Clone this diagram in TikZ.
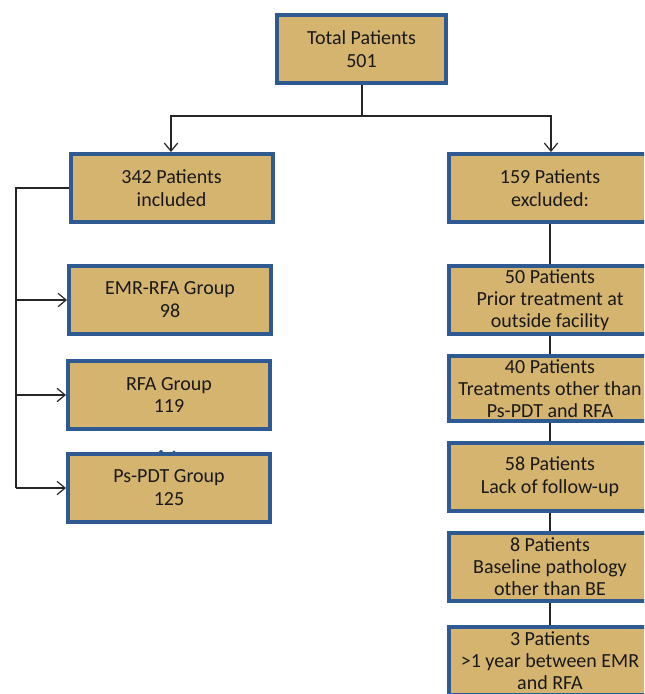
\documentclass[tikz,border=0pt]{standalone}
\usepackage{fontspec}
\setmainfont{Carlito}
\usetikzlibrary{arrows.meta}
\definecolor{boxfill}{RGB}{212,180,110}
\definecolor{boxline}{RGB}{47,90,145}
\tikzset{
  box/.style={draw=boxline, line width=3pt, fill=boxfill, rectangle, inner sep=0pt,
    minimum width=151.5pt, minimum height=51pt, align=center,
    font=\fontsize{15}{17.2}\selectfont, text=black!90},
  box3/.style={box, font=\fontsize{15}{16.5}\selectfont},
  conn/.style={draw=black!85, line width=0.9pt},
  arr/.style={conn, -{Straight Barb[length=6pt,width=10pt,line width=0.9pt]}}
}
\begin{document}
\begin{tikzpicture}[x=0.75pt,y=-0.75pt]
\useasboundingbox (0,0) rectangle (644,694);
\begin{scope}
\clip (0,0) rectangle (644,694);
\node[box, minimum width=126.75pt] (total) at (361.5,49) {Total Patients\\501};
\node[box] (incl) at (171.5,188) {342 Patients\\included};
\node[box] (emr) at (170,300) {EMR-RFA Group\\98};
\node[box] (rfa) at (169,395) {RFA Group\\119};
\node[box] (pdt) at (169,488) {Ps-PDT Group\\125};
\node[box] (excl) at (550,188) {159 Patients\\excluded:};
\node[box3] (ex50) at (550,300) {50 Patients\\Prior treatment at\\outside facility};
\node[box3, minimum height=48.75pt] (ex40) at (550,388.5) {40 Patients\\\makebox[0pt]{Treatments other than}\\Ps-PDT and RFA};
\node[box] (ex58) at (550,477) {58 Patients\\Lack of follow-up};
\node[box3] (ex8) at (550,567) {8 Patients\\Baseline pathology\\other than BE};
\node[box3] (ex3) at (550,660.5) {3 Patients\\\makebox[0pt]{>1 year between EMR}\\and RFA};

\coordinate (split) at (362,116);
\coordinate (lbar) at (16,188);
\draw[conn] (total.south -| split) -- (split);
\draw[arr] (split) -| (incl.north -| 171,0);
\draw[arr] (split) -| (excl.north -| 551,0);
\draw[conn] (incl.west) -- (lbar) -- (lbar |- pdt.west);
\draw[arr] (lbar |- emr.west) -- (emr.west);
\draw[arr] (lbar |- rfa.west) -- (rfa.west);
\draw[arr] (lbar |- pdt.west) -- (pdt.west);
\draw[conn] (excl.south) -- (ex50.north);
\draw[conn] (ex50.south) -- (ex40.north);
\draw[conn] (ex40.south) -- (ex58.north);
\draw[conn] (ex58.south) -- (ex8.north);
\draw[conn] (ex8.south) -- (ex3.north);
\fill[boxline] (161,452) circle (1.5pt) (174,452) circle (1.2pt);
\end{scope}
\end{tikzpicture}
\end{document}
